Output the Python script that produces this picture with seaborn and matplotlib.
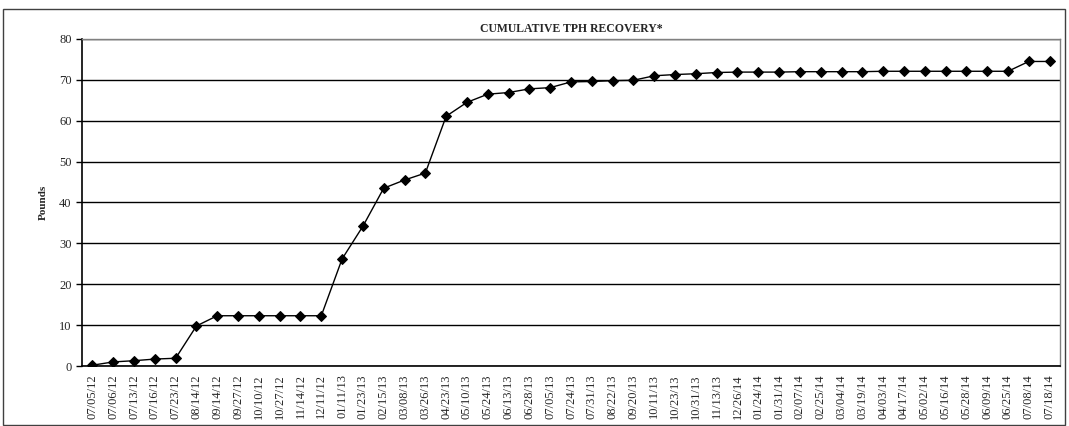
import matplotlib
matplotlib.use("Agg")
import matplotlib.pyplot as plt
import matplotlib.patches as patches
import numpy as np
import pandas as pd
import seaborn as sns

dates = ["07/05/12", "07/06/12", "07/13/12", "07/16/12", "07/23/12", "08/14/12",
         "09/14/12", "09/27/12", "10/10/12", "10/27/12", "11/14/12", "12/11/12",
         "01/11/13", "01/23/13", "02/15/13", "03/08/13", "03/26/13", "04/23/13",
         "05/10/13", "05/24/13", "06/13/13", "06/28/13", "07/05/13", "07/24/13",
         "07/31/13", "08/22/13", "09/20/13", "10/11/13", "10/23/13", "10/31/13",
         "11/13/13", "12/26/14", "01/24/14", "01/31/14", "02/07/14", "02/25/14",
         "03/04/14", "03/19/14", "04/03/14", "04/17/14", "05/02/14", "05/16/14",
         "05/28/14", "06/09/14", "06/25/14", "07/08/14", "07/18/14"]
pounds = [0.2, 1.0, 1.3, 1.7, 1.9, 9.8,
          12.3, 12.3, 12.3, 12.3, 12.3, 12.3,
          26.2, 34.2, 43.5, 45.5, 47.2, 61.1,
          64.5, 66.5, 66.9, 67.8, 68.1, 69.5,
          69.6, 69.8, 69.9, 71.0, 71.3, 71.5,
          71.8, 71.9, 71.9, 71.9, 72.0, 72.0,
          72.0, 72.0, 72.1, 72.1, 72.1, 72.1,
          72.1, 72.1, 72.1, 74.5, 74.5]

df = pd.DataFrame({"date": dates, "pounds": pounds})

sns.set_style("white")
plt.rcParams["font.family"] = ["Liberation Serif", "DejaVu Serif"]

fig = plt.figure(figsize=(10.69, 4.26), dpi=100)
ax = fig.add_axes([0.0767, 0.1408, 0.9149, 0.7677])

sns.lineplot(data=df, x="date", y="pounds", ax=ax, color="black", linewidth=1,
             marker="D", markersize=5, markeredgecolor="black", sort=False)

n = len(dates)
ax.set_xlim(-0.5, n - 0.5)
ax.set_ylim(0, 80)
ax.set_yticks(range(0, 81, 10))
ax.yaxis.grid(True, color="black", linewidth=1)
ax.set_axisbelow(True)

ax.set_xticks(range(n))
ax.set_xticklabels(dates, rotation=90, fontsize=9)
ax.tick_params(axis="x", which="major", length=0, pad=6)
ax.set_xticks(np.arange(-0.5, n, 1), minor=True)
ax.tick_params(axis="x", which="minor", length=7, direction="inout", width=1, color="black")
ax.tick_params(axis="y", length=4, direction="out", width=1, labelsize=9, color="black", left=True)

for side in ["left", "bottom"]:
    ax.spines[side].set_color("black")
    ax.spines[side].set_linewidth(1.2)
for side in ["top", "right"]:
    ax.spines[side].set_color("#808080")
    ax.spines[side].set_linewidth(1)

ax.set_xlabel("")
ax.set_ylabel("Pounds", fontsize=8, fontweight="bold", labelpad=8)
ax.set_title("CUMULATIVE TPH RECOVERY*", fontsize=8.5, fontweight="bold", pad=5)

fig.patches.append(patches.Rectangle((0.003, 0.002), 0.993, 0.976, transform=fig.transFigure,
                                     fill=False, edgecolor="#404040", linewidth=1))

fig.savefig("out.png", dpi=100)
